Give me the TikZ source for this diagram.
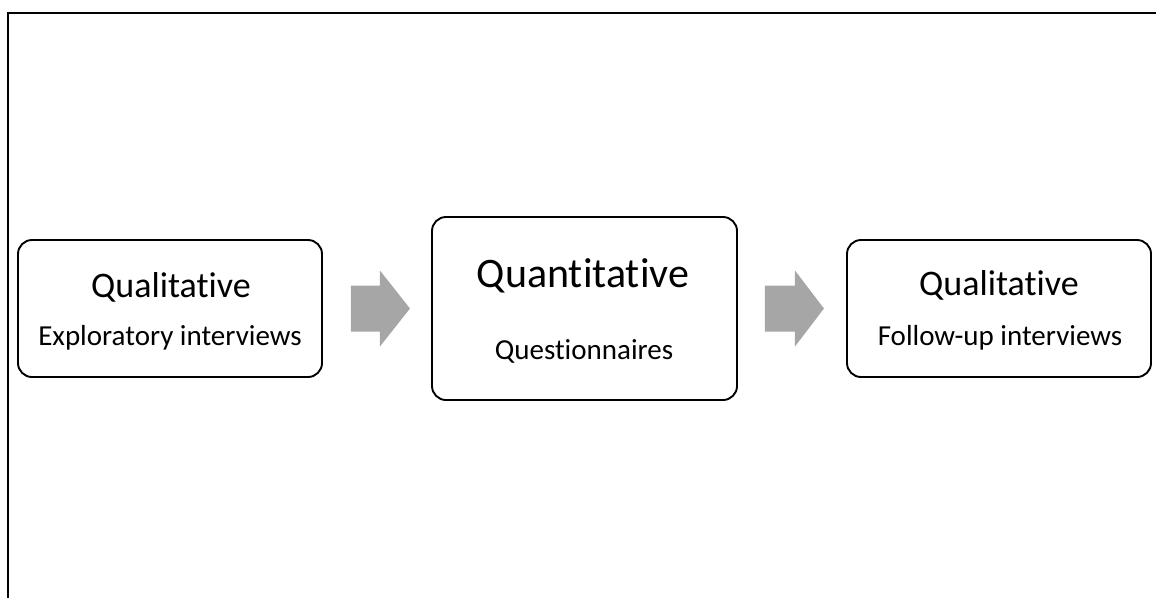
\documentclass[tikz,border=0pt]{standalone}
\usepackage{fontspec}
\setmainfont{Carlito}[Ligatures=NoCommon]
\usetikzlibrary{calc}
\definecolor{arrowgrey}{HTML}{A6A6A6}
\tikzset{
  stagebox/.style={draw=black, line width=1.9pt, rounded corners=14pt, fill=white, inner sep=0pt},
  headtext/.style={anchor=base, inner sep=0pt, font=\fontsize{36}{40}\selectfont},
  bigheadtext/.style={anchor=base, inner sep=0pt, font=\fontsize{42}{46}\selectfont},
  subtext/.style={anchor=base, inner sep=0pt, font=\fontsize{29}{33}\selectfont},
  frameline/.style={draw=black, line width=2.6pt},
  blockarrow/.style={fill=arrowgrey}
}
\begin{document}
\begin{tikzpicture}[x=1pt, y=-1pt]
\useasboundingbox (0,0) rectangle (1156,598);

% outer frame (top and left edges only)
\coordinate (ftr) at (1156,13);
\coordinate (ftl) at (8,13);
\coordinate (fbl) at (8,598);
\draw[frameline] (ftr) -- (ftl) -- (fbl);

% stages
\node[stagebox, minimum width=304pt, minimum height=137pt] (b1) at (170,308.5) {};
\node[stagebox, minimum width=305pt, minimum height=183pt] (b2) at (584.5,308.5) {};
\node[stagebox, minimum width=304pt, minimum height=137pt] (b3) at (999,308.5) {};

\node[headtext] (t1) at (171,297) {Qualitative};
\node[subtext] (s1) at (170,345) {Exploratory interviews};
\node[bigheadtext] (t2) at (583,287) {Quantitative};
\node[subtext] (s2) at (584,359) {Questionnaires};
\node[headtext] (t3) at (999,295) {Qualitative};
\node[subtext] (s3) at (1000,345) {Follow-up interviews};

% block arrows between stages
\path (b1.east) ++(28,0) coordinate (a1s);
\path (b2.east) ++(27,0) coordinate (a2s);
\fill[blockarrow] (a1s) ++(0,-23) -- ++(29,0) -- ++(0,-15) -- ++(30,38)
  -- ++(-30,38) -- ++(0,-15) -- ++(-29,0) -- cycle;
\fill[blockarrow] (a2s) ++(0,-23) -- ++(30,0) -- ++(0,-15) -- ++(29,38)
  -- ++(-29,38) -- ++(0,-15) -- ++(-30,0) -- cycle;
\end{tikzpicture}
\end{document}
